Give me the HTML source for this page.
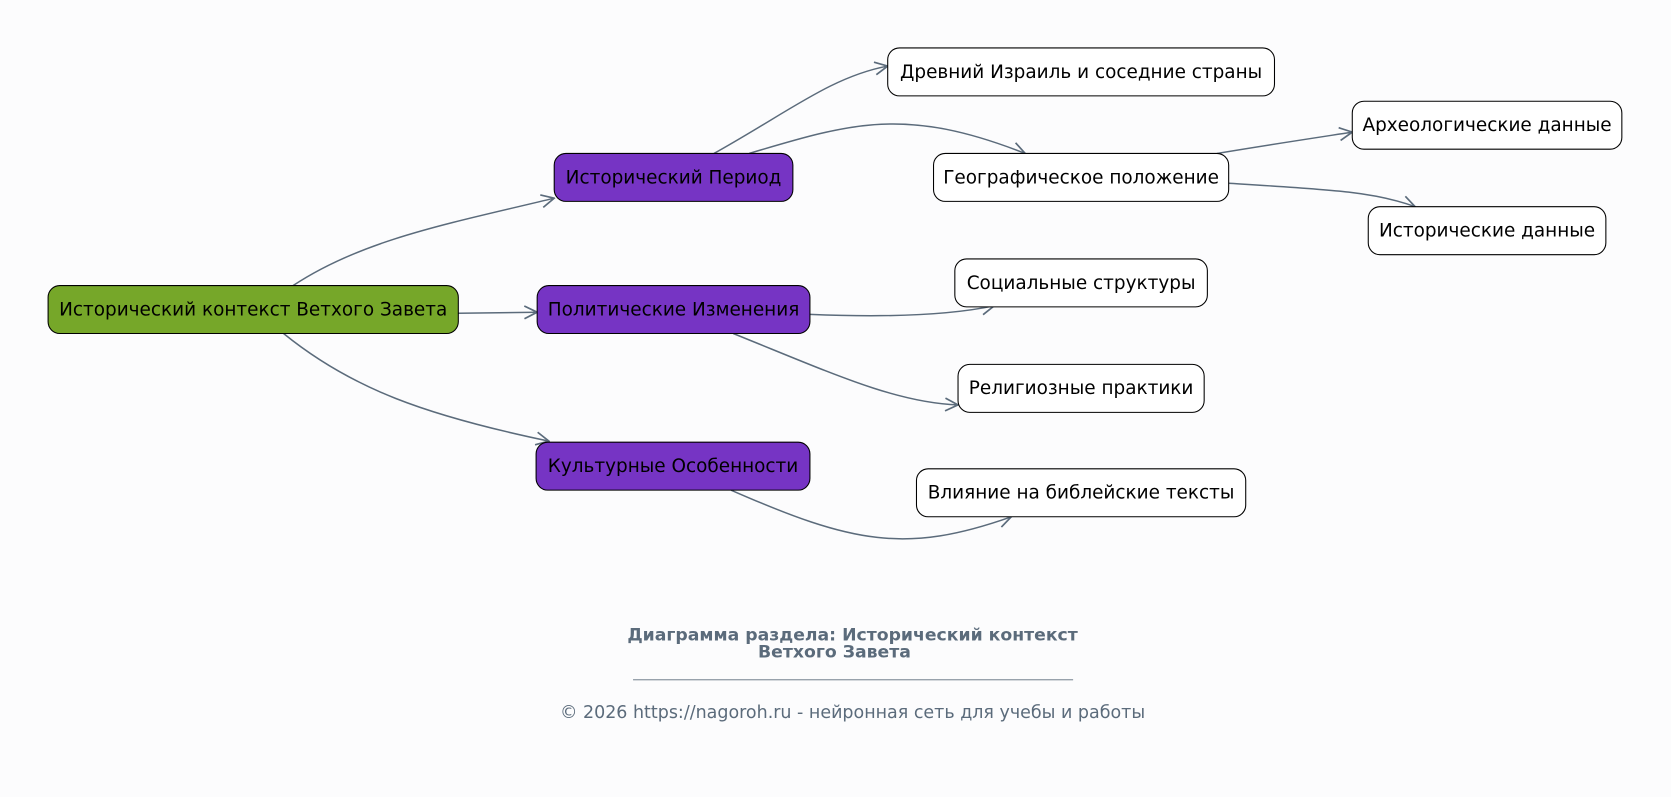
<!DOCTYPE html>
<html><head><meta charset="utf-8"><style>
html,body{margin:0;padding:0;background:#fcfcfd;}
svg{display:block;font-family:"DejaVu Sans","Liberation Sans",sans-serif;}
</style></head><body>
<svg width="1671" height="797" viewBox="0 0 1568 748" xmlns="http://www.w3.org/2000/svg">
<defs>
<marker id="a" viewBox="0 0 14 14" refX="13" refY="7" markerWidth="14" markerHeight="14" markerUnits="userSpaceOnUse" orient="auto">
<path d="M1,1 L13,7 L1,13" fill="none" stroke="#5b6b7b" stroke-width="1.6"/>
</marker>
</defs>
<rect width="1568" height="748" fill="#fcfcfd"/>
<g fill="none" stroke="#5b6b7b" stroke-width="1.4" marker-end="url(#a)">
<path d="M275,268 C340,225 420,210 520,186"/>
<path d="M430,294 L504,293"/>
<path d="M266,313 C330,365 400,390 515,414"/>
<path d="M670,144 C740,105 780,72 833,62"/>
<path d="M703,144 C800,115 850,100 962,144"/>
<path d="M1142,144 C1190,136 1230,130 1269,124"/>
<path d="M1153,172 C1250,178 1290,180 1328,194"/>
<path d="M760,295 C830,298 890,296 933,287"/>
<path d="M688,313 C780,350 840,378 899,380"/>
<path d="M686,460 C800,510 850,520 949,485"/>
</g>
<g stroke="#000" stroke-width="1">
<rect x="45" y="268" width="385" height="45" rx="11" fill="#76a729"/>
<rect x="520" y="144" width="224" height="45" rx="11" fill="#7634c4"/>
<rect x="504" y="268" width="256" height="45" rx="11" fill="#7634c4"/>
<rect x="503" y="415" width="257" height="45" rx="11" fill="#7634c4"/>
<rect x="833" y="45" width="363" height="45" rx="11" fill="#fff"/>
<rect x="876" y="144" width="277" height="45" rx="11" fill="#fff"/>
<rect x="1269" y="95" width="253" height="45" rx="11" fill="#fff"/>
<rect x="1284" y="194" width="223" height="45" rx="11" fill="#fff"/>
<rect x="896" y="243" width="237" height="45" rx="11" fill="#fff"/>
<rect x="899" y="342" width="231" height="45" rx="11" fill="#fff"/>
<rect x="860" y="440" width="309" height="45" rx="11" fill="#fff"/>
</g>
<g font-size="17.3" fill="#000" text-anchor="middle">
<text x="237.5" y="296">Исторический контекст Ветхого Завета</text>
<text x="632" y="172">Исторический Период</text>
<text x="632" y="296">Политические Изменения</text>
<text x="631.5" y="443">Культурные Особенности</text>
<text x="1014.5" y="73">Древний Израиль и соседние страны</text>
<text x="1014.5" y="172">Географическое положение</text>
<text x="1395.5" y="123">Археологические данные</text>
<text x="1395.5" y="222">Исторические данные</text>
<text x="1014.5" y="271">Социальные структуры</text>
<text x="1014.5" y="370">Религиозные практики</text>
<text x="1014.5" y="468">Влияние на библейские тексты</text>
</g>
<g fill="#5b6b7b" text-anchor="middle">
<text x="800" y="601" font-size="16.2" font-weight="bold">Диаграмма раздела: Исторический контекст</text>
<text x="783" y="617" font-size="16.2" font-weight="bold">Ветхого Завета</text>
<line x1="594" y1="638" x2="1007" y2="638" stroke="#5b6b7b" stroke-width="0.8"/>
<text x="800" y="674" font-size="16.4">© 2026 https://nagoroh.ru - нейронная сеть для учебы и работы</text>
</g>
</svg>
</body></html>
